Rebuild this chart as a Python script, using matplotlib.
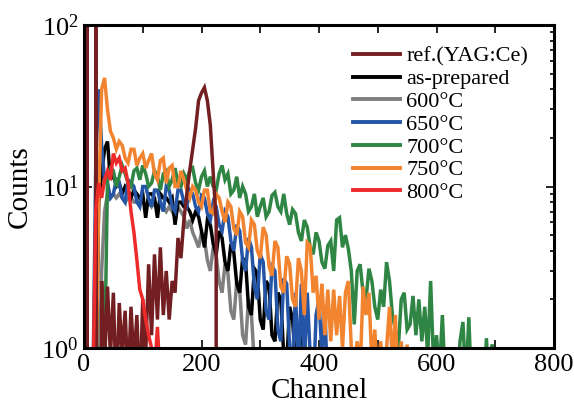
import numpy as np
import matplotlib
matplotlib.use("Agg")
import matplotlib.pyplot as plt
from matplotlib.ticker import MultipleLocator, LogLocator, NullFormatter

plt.rcParams['font.family'] = ['Liberation Serif', 'DejaVu Serif']
plt.rcParams['mathtext.fontset'] = 'custom'
plt.rcParams['mathtext.rm'] = 'Liberation Serif'

STEP = 5  # channel spacing of the listed counts

ref_yag = [0, 300, 0, 0, 300, 0, 2.6, 0.8, 2.4, 0.9, 2.2, 0.5, 1.9, 0.9, 1.7, 0.6,
           1.8, 0.8, 1.6, 0.5, 2.0, 0.9, 3.3, 1.2, 3.8, 1.5, 4.2, 1.6, 3.0, 1.5, 2.6,
           2.2, 4.8, 3.6, 6.2, 9.0, 12.6, 17, 23, 34, 38, 41, 34, 24, 12, 6, 0]

as_prepared = [0, 0, 0, 0, 0.5, 8, 12, 17, 19,
               11, 12, 10, 10.5, 9, 10, 9.5, 8.5, 9.5, 9, 8.5, 9, 6.4, 9, 9, 8.5, 6.4,
               9, 8.5, 8.5, 8, 8.5, 5.8, 8, 8, 7.5, 7.5, 7, 6.2, 7, 6.5, 5.3,
               4.2, 6.2, 5.8, 4.4, 3.8, 5.3, 4.8, 3.4, 3.0, 4.4,
               3.9, 2.5, 2.2, 3.6, 3.4, 1.8, 1.6, 3.1, 2.9, 1.5, 1.3, 2.6, 2.4, 1.2, 1.1,
               2.2, 2.0, 0.9, 0.8, 1.8, 1.5, 0.8, 0.7, 1.4, 1.2, 0.6, 0.5, 0.9, 0]

c600 = [0, 0, 0, 0, 0, 0.5, 3, 7,
        9, 8.5, 9, 8.5, 9, 8.5, 8, 8.5, 8.5, 8, 8, 8.5, 8, 7.5, 8, 7.5, 8, 7.5, 7.5,
        7.5, 7, 7.5, 7, 6.5, 7.5, 7, 6.5, 5.5, 6.2, 5.2,
        4.7, 4.2, 5.2, 4.7, 3.5, 3.0, 4.2, 3.7, 2.6, 2.2, 3.3, 2.9, 1.7, 1.5, 2.6, 2.3,
        1.2, 1.05, 2.0, 1.6, 0.8, 0.6, 0]

c650 = [0, 0, 0, 0.5, 14, 40, 18, 11, 10.5, 8.5, 9, 11, 10.5, 8.5, 8, 11, 10.5, 10, 8,
        7.5, 10, 10, 8.5, 7.5, 9.5, 9.5, 8, 7, 10, 9.5, 7.5, 7, 9.5, 9.5, 8, 7.5, 9.5, 9,
        7.5, 7, 8.8, 8.5, 6.8, 6.2, 8, 7.5, 5.8, 5.3, 7, 6.5, 4.6, 4.0, 5.8, 5.3, 3.5,
        3.0, 4.8, 4.2, 2.4, 2.0, 3.8, 3.4, 1.7, 1.5, 3.2, 3.0, 1.3, 1.1, 2.7, 2.5, 1.0,
        0.8, 2.2, 0.7, 2.5, 0.8, 2.2, 0.9, 0.5, 1.6, 2.0, 0.9, 1.8, 0.5, 0]

c700 = [0, 0, 0, 0, 0, 0, 0.5, 0.8,
        11, 13, 12.5, 10, 11.5, 13.5, 12, 10.5, 10, 12.5, 13, 11, 13.5, 12, 10, 10.5,
        12.5, 11.5, 9.5, 12, 12.5, 10, 11, 13, 10.5, 10, 12, 11, 12.5, 13, 10.5, 9.5,
        11.5, 12.5, 10, 11.5, 10, 9.5, 12, 13.5,
        11, 12, 9, 9.5, 11.5, 8.5, 10, 9, 7, 7.5, 9, 6.5, 7.5, 8.5, 6.5, 7, 8.8, 9.2,
        7.5, 7, 9, 6.8, 5.8, 7.2, 6.8, 5.2, 4.6, 6.2, 5.6, 4.2, 3.8, 5.2, 4.6, 3.4, 3.1,
        4.3, 4.6, 3.0, 6.2, 6.4,
        4.2, 5.0, 4.1, 3.0, 1.4, 3.0, 3.3, 2.2, 2.0, 3.1, 2.6, 1.8, 1.5, 2.3, 1.8, 3.4,
        2.6, 1.6, 1.3, 1.0, 2.0, 2.2, 1.3, 1.4, 2.1, 1.2, 2.0, 1.1, 1.8, 0.9, 2.6, 0.8,
        1.2, 0.7, 1.6, 0.6, 0.8, 0.5, 0.7, 0.5, 1.1, 1.45, 0.6, 1.55, 0.5, 0.4, 0.5,
        0.4, 0.5, 1.15, 0.5, 1.05, 0]

c750 = [0, 0, 0, 0, 0.5, 8, 40, 47, 30, 22, 20,
        17, 19, 18, 15, 14, 17, 17, 13.5, 15, 16, 13, 14.5, 16, 12, 11, 14.5, 15, 10.5,
        13, 13.5, 10, 10, 12.5, 11, 9.5, 8.5, 10, 9.5, 8, 7.5, 9.5, 9.5, 7, 6.8, 9, 8.5,
        7, 6, 8, 7.5, 5.5, 5, 7, 6.5, 4.5, 4.2, 6.2, 5.8, 4, 3.6, 5.6, 5, 3.2, 2.8, 4.6,
        4.2, 2.4, 2.2, 3.7, 3.3, 2.0, 1.8, 3.6, 3.0, 1.6,
        4.5, 4.3, 2.2, 2.8, 1.5, 2.5, 1.2, 2.3, 1.1, 2.3, 1.2, 2.1, 1.0, 2.2, 2.6, 1.0,
        0.8, 1.1, 0.7, 2.4, 1.6, 2.2, 0.8, 1.3, 0.6, 1.1, 0.5, 1.0, 1.8, 0.8, 1.6, 0.5,
        1.1, 0.6, 1.05, 0.5, 0]

c800 = [0, 0, 0, 0.5, 7, 10.5, 8.5, 11, 12.5, 11, 16, 14, 15, 12.5, 13, 10.5, 7, 5.2,
        3.5, 2.3, 2.0, 1.5, 1.2, 1.0, 0.7, 1.35, 0.6, 0.9, 0]

labels = ['ref.(YAG:Ce)', 'as-prepared', '600°C', '650°C', '700°C', '750°C', '800°C']
series = [ref_yag, as_prepared, c600, c650, c700, c750, c800]
colors = ['#731f22', '#000000', '#7f7f7f', '#2455a6', '#2f8544', '#f2842f', '#ee2b2b']
zorders = [6, 2, 1.5, 4, 4.5, 5, 7]

fig = plt.figure(figsize=(5.74, 4.08), dpi=100)
ax = fig.add_axes([84/574, 1-348/408, (554-84)/574, (348-25)/408])

handles = []
for lab, vals, col, z in zip(labels, series, colors, zorders):
    ch = np.arange(len(vals)) * STEP
    h, = ax.plot(ch, vals, color=col, lw=2.5, zorder=z, label=lab,
                 solid_joinstyle='miter')
    handles.append(h)

ax.set_yscale('log')
ax.set_xlim(0, 800)
ax.set_ylim(1, 100)
ax.xaxis.set_major_locator(MultipleLocator(200))
ax.xaxis.set_minor_locator(MultipleLocator(100))
ax.yaxis.set_minor_locator(LogLocator(base=10, subs=np.arange(2, 10)))
ax.yaxis.set_minor_formatter(NullFormatter())

ax.tick_params(which='both', direction='in', top=True, right=True, width=1.2)
ax.tick_params(which='major', length=6, labelsize=19, pad=4)
ax.tick_params(axis='x', which='minor', length=6)
ax.tick_params(axis='y', which='minor', length=3)
for s in ax.spines.values():
    s.set_linewidth(2.2)
    s.set_zorder(10)

ax.set_xlabel('Channel', fontsize=21, labelpad=2)
ax.set_ylabel('Counts', fontsize=21, labelpad=6)

leg = ax.legend(handles=handles, loc='upper left',
                bbox_to_anchor=(353/574, 1-46/408), bbox_transform=fig.transFigure,
                frameon=False, fontsize=16, handlelength=2.1, handletextpad=0.3,
                labelspacing=0.1, borderpad=0, borderaxespad=0)
for l in leg.get_lines():
    l.set_linewidth(2.8)

fig.savefig('out.png', dpi=100)
